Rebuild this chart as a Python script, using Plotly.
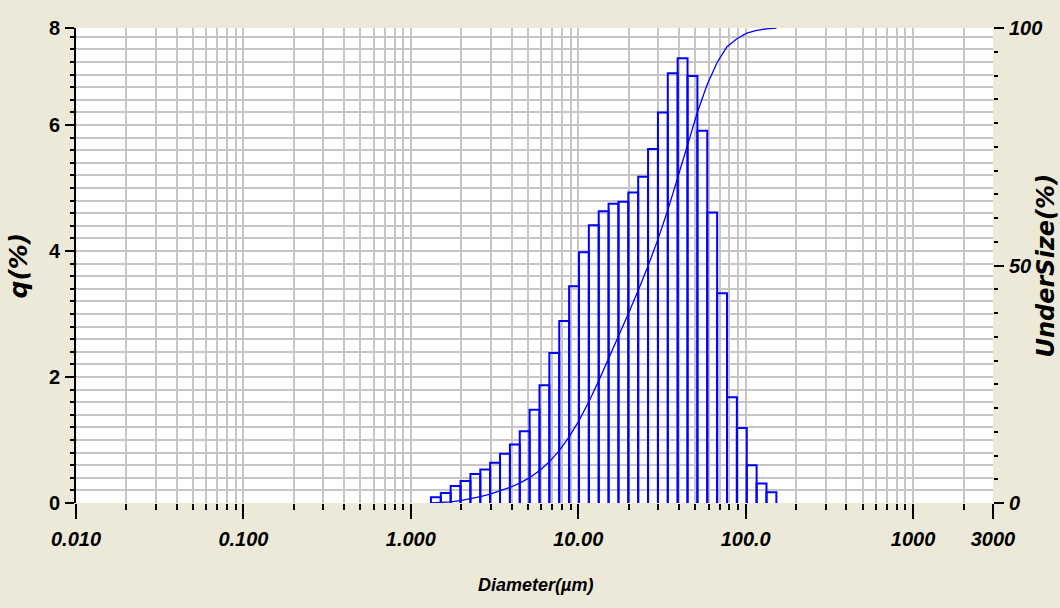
import math
import plotly.graph_objects as go

# Channel edges (µm) of the size classes that carry data
edges = [1.318, 1.510, 1.729, 1.981, 2.269, 2.599, 2.976, 3.409, 3.905, 4.472,
         5.122, 5.867, 6.720, 7.697, 8.816, 10.097, 11.565, 13.246, 15.172, 17.377,
         19.904, 22.797, 26.111, 29.907, 34.255, 39.234, 44.938, 51.471, 58.953, 67.523,
         77.339, 88.583, 101.460, 116.210, 133.103, 152.453]

# Frequency q(%) for each class (between consecutive edges)
q_pct = [0.09, 0.16, 0.27, 0.35, 0.46, 0.53, 0.64, 0.78, 0.93, 1.14,
         1.48, 1.87, 2.38, 2.89, 3.44, 3.98, 4.41, 4.63, 4.75, 4.78,
         4.93, 5.18, 5.62, 6.20, 6.82, 7.06, 6.78, 5.91, 4.61, 3.33,
         1.68, 1.19, 0.60, 0.31, 0.17]

# Cumulative undersize (%) at the upper edge of each class
undersize = [0.09, 0.25, 0.52, 0.87, 1.33, 1.85, 2.49, 3.27, 4.20, 5.33,
             6.81, 8.67, 11.04, 13.92, 17.35, 21.32, 25.71, 30.32, 35.06, 39.82,
             44.73, 49.90, 55.50, 61.67, 68.47, 75.50, 82.26, 88.15, 92.74, 96.06,
             97.73, 98.92, 99.52, 99.83, 100.0]

x_tickvals = [0.01, 0.1, 1, 10, 100, 1000, 3000]
x_ticktext = ["0.010", "0.100", "1.000", "10.00", "100.0", "1000", "3000"]
x_minor = [m * 10 ** k for k in range(-2, 4) for m in range(2, 10) if m * 10 ** k < 3000]

y_top = 7.54
y_tickvals = [0, 2, 4, 6, y_top]
y_ticktext = ["0", "2", "4", "6", "8"]
y_minor = [round(0.2 * i, 2) for i in range(1, 38)]

y2_tickvals = [0, 50, 100]
y2_ticktext = ["0", "50", "100"]

# Build outlined histogram bars as one path
hx, hy = [], []
for i, h in enumerate(q_pct):
    hx += [edges[i], edges[i], edges[i + 1], edges[i + 1], None]
    hy += [0, h, h, 0, None]

cx = [edges[0]] + edges[1:]
cy = [0] + undersize

BLUE = "#0000FF"
GRID = "#C6C6C6"
FONT = "Liberation Sans Narrow, Arial Narrow, Liberation Sans, Arial, sans-serif"
WIDE = "DejaVu Sans, Verdana, sans-serif"
tickfont = dict(family=FONT, size=20, color="black", weight="bold", style="italic")

fig = go.Figure()
fig.add_trace(go.Scatter(x=hx, y=hy, mode="lines", line=dict(color=BLUE, width=2),
                         yaxis="y", showlegend=False, hoverinfo="skip"))
fig.add_trace(go.Scatter(x=cx, y=cy, mode="lines", line=dict(color=BLUE, width=1.3),
                         yaxis="y2", showlegend=False))

fig.update_layout(
    width=1060, height=608,
    margin=dict(l=76, r=67, t=28, b=105),
    paper_bgcolor="#ECE9D8",
    plot_bgcolor="white",
    xaxis=dict(
        type="log", range=[-2, math.log10(3000)],
        tickmode="array", tickvals=x_tickvals, ticktext=x_ticktext,
        ticks="outside", ticklen=15, tickwidth=1.5, tickcolor="black",
        tickfont=tickfont, ticklabelstandoff=3,
        showgrid=True, gridcolor=GRID, gridwidth=1.5,
        minor=dict(tickmode="array", tickvals=x_minor, ticks="outside", ticklen=6,
                   tickwidth=1.5, tickcolor="black", showgrid=True, gridcolor=GRID, gridwidth=1.5),
        showline=False, zeroline=False,
    ),
    yaxis=dict(
        range=[0, y_top],
        tickmode="array", tickvals=y_tickvals, ticktext=y_ticktext,
        ticks="outside", ticklen=9, tickwidth=1.5, tickcolor="black",
        tickfont=dict(family=FONT, size=20, color="black", weight="bold"),
        ticklabelstandoff=1,
        showgrid=True, gridcolor=GRID, gridwidth=1.5,
        minor=dict(tickmode="array", tickvals=y_minor, ticks="outside", ticklen=4,
                   tickwidth=1.5, tickcolor="black", showgrid=True, gridcolor=GRID, gridwidth=1.5),
        showline=True, linecolor="black", linewidth=2, zeroline=False,
    ),
    yaxis2=dict(
        overlaying="y", side="right", range=[0, 100],
        tickmode="array", tickvals=y2_tickvals, ticktext=y2_ticktext,
        ticks="outside", ticklen=10, tickwidth=1.5, tickcolor="black",
        tickfont=dict(family=FONT, size=20, color="black", weight="bold", style="italic"),
        ticklabelstandoff=1,
        minor=dict(dtick=5, ticks="outside", ticklen=4, tickwidth=1.5, tickcolor="black",
                   showgrid=False),
        showgrid=False, showline=False, zeroline=False,
    ),
    annotations=[
        dict(text="q(%)", xref="paper", yref="paper", x=(18 - 76) / 917, y=0.5, textangle=-90,
             xanchor="center", yanchor="middle", showarrow=False,
             font=dict(family=WIDE, size=25, color="black", weight="bold", style="italic")),
        dict(text="UnderSize(%)", xref="paper", yref="paper", x=(1045 - 76) / 917, y=0.5, textangle=-90,
             xanchor="center", yanchor="middle", showarrow=False,
             font=dict(family=WIDE, size=24, color="black", weight="bold", style="italic")),
        dict(text="Diameter(µm)", xref="paper", yref="paper", x=(535 - 76) / 917, y=(503 - 585) / 475,
             xanchor="center", yanchor="middle", showarrow=False,
             font=dict(family=FONT, size=18, color="black", weight="bold", style="italic")),
    ],
)

fig.write_html("out.html")
